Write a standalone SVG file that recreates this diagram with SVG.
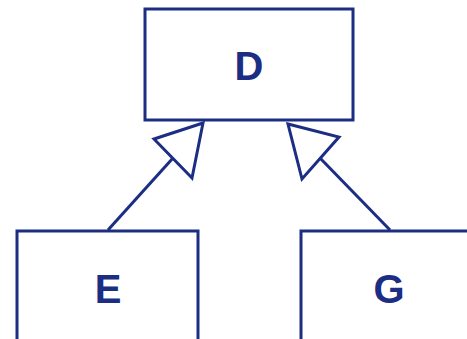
<svg xmlns="http://www.w3.org/2000/svg" width="467" height="339" viewBox="0 0 467 339">
<style>
.box{fill:#fff;stroke:#1c2d84;stroke-width:3}
.lbl{font-family:"Liberation Sans",Arial,sans-serif;font-weight:bold;font-size:40px;fill:#1c2d84;text-anchor:middle}
.edge{fill:none;stroke:#1c2d84;stroke-width:3}
.head{fill:#fff;stroke:#1c2d84;stroke-width:3;stroke-linejoin:miter}
</style>
<rect width="467" height="339" fill="#fff"/>
<g id="D"><rect class="box" x="145" y="9" width="208" height="111"/><text class="lbl" x="249" y="80">D</text></g>
<g id="E"><rect class="box" x="17" y="231" width="181" height="120"/><text class="lbl" x="108" y="303">E</text></g>
<g id="G"><rect class="box" x="301" y="231" width="180" height="120"/><text class="lbl" x="389" y="303">G</text></g>
<g id="connectors">
<line class="edge" x1="108" y1="230" x2="173" y2="158"/>
<polygon class="head" points="203,123 154,139 192,178"/>
<line class="edge" x1="390" y1="230" x2="320" y2="158"/>
<polygon class="head" points="288,124 339,137 302,179"/>
</g>
</svg>
